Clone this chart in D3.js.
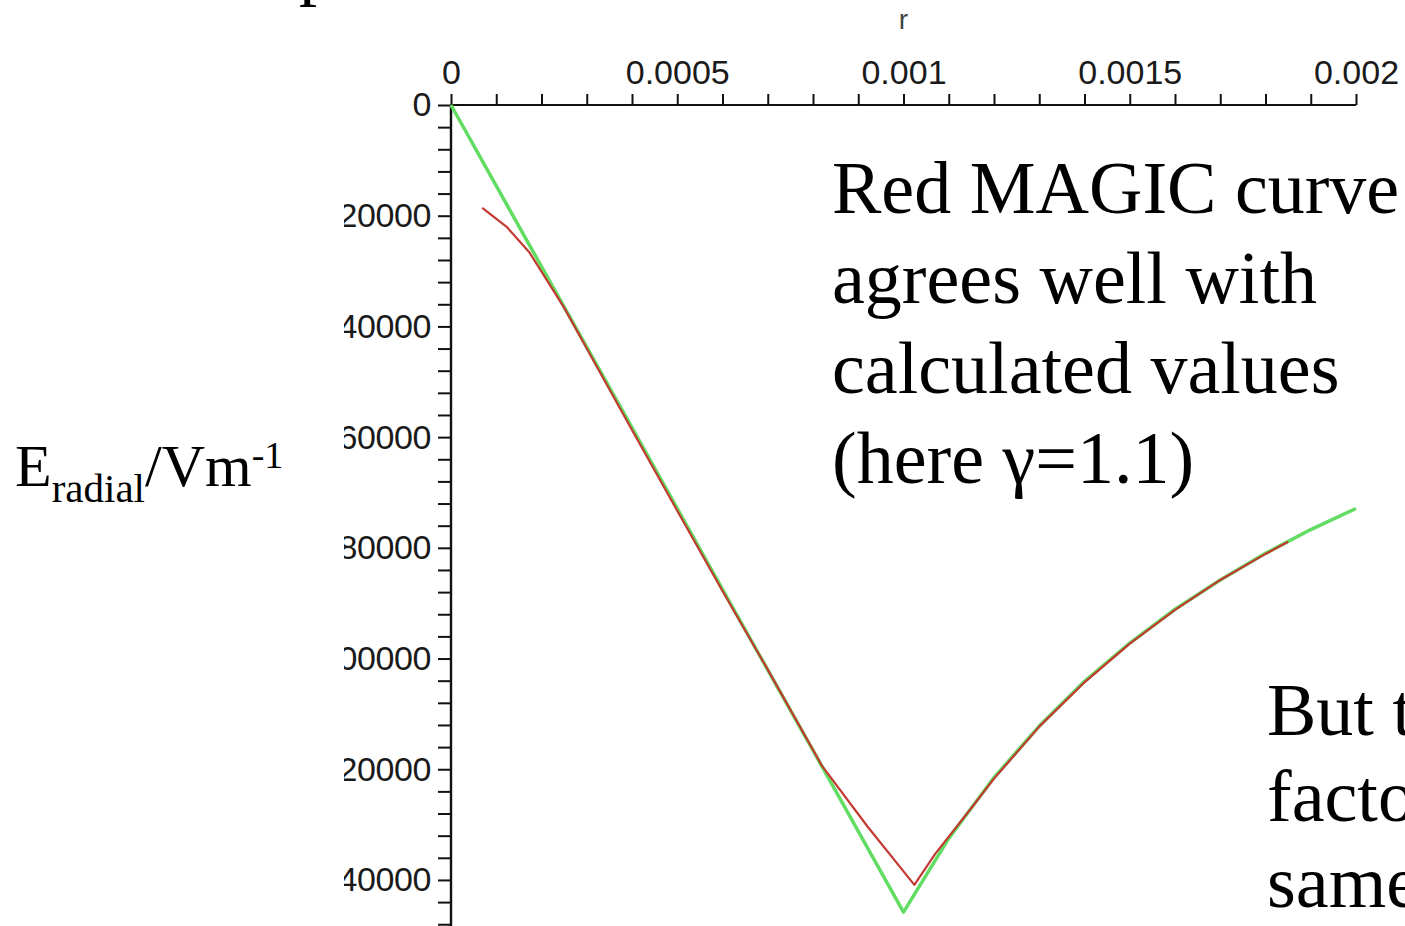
<!DOCTYPE html>
<html>
<head>
<meta charset="utf-8">
<script src="https://cdn.jsdelivr.net/npm/d3@7"></script>
<style>
  html, body { margin: 0; padding: 0; background: #fff; }
  svg { display: block; }
</style>
</head>
<body>
<svg id="chart" width="1405" height="926"></svg>
<script>
// ---------- data ----------
const xTickValues = [0, 0.0005, 0.001, 0.0015, 0.002];
const xTickLabels = ["0", "0.0005", "0.001", "0.0015", "0.002"];
const yTickValues = [0, -20000, -40000, -60000, -80000, -100000, -120000, -140000];
const yTickLabels = ["0", "-20000", "-40000", "-60000", "-80000", "-100000", "-120000", "-140000"];

// calculated values (green)
const calcR = [0, 0.0002, 0.0004, 0.0006, 0.0008, 0.001, 0.0011, 0.0012, 0.0013, 0.0014, 0.0015, 0.0016, 0.0017, 0.0018, 0.0019, 0.002];
const calcE = [0, -29200, -58300, -87500, -116600, -145800, -132500, -121500, -112200, -104100, -97200, -91100, -85800, -81000, -76700, -72900];

// MAGIC curve (red)
const magicR = [0.000069, 0.000123, 0.000173, 0.00025, 0.0003, 0.0004, 0.0005, 0.0006, 0.0007, 0.00082, 0.00092, 0.001024, 0.00107, 0.00115, 0.0012, 0.0013, 0.0014, 0.0015, 0.0016, 0.0017, 0.0018, 0.00185];
const magicE = [-18600, -22000, -26600, -36600, -44000, -58700, -73300, -87800, -102000, -119400, -130300, -140900, -135300, -127000, -121700, -112300, -104300, -97300, -91200, -85800, -81100, -78900];

const noteLines = ["Red MAGIC curve", "agrees well with", "calculated values", "(here \u03b3=1.1)"];
const note2Lines = ["But t", "facto", "same"];

// ---------- drawing ----------
const svg = d3.select("#chart");
svg.append("rect").attr("width", 1405).attr("height", 926).attr("fill", "#fff");

const x = d3.scaleLinear().domain([0, 0.002]).range([451, 1356]);
const y = d3.scaleLinear().domain([0, -148500]).range([105, 927]);

const axisFont = "'Liberation Sans', Arial, sans-serif";
const serif = "'Liberation Serif', 'Times New Roman', serif";

// clip for cropped y labels (absolute coordinates)
svg.append("clipPath").attr("id", "ylabclip")
  .append("rect").attr("x", 344).attr("y", 0).attr("width", 1061).attr("height", 926);

// x axis (top)
const xAxis = d3.axisTop(x)
  .tickValues(d3.range(0, 21).map(i => i * 0.0001))
  .tickSize(11)
  .tickPadding(10)
  .tickFormat(d => {
    const idx = xTickValues.findIndex(v => Math.abs(v - d) < 1e-9);
    return idx >= 0 ? xTickLabels[idx] : "";
  });
const gx = svg.append("g").attr("transform", "translate(0,105)").call(xAxis);
gx.select(".domain").attr("stroke", "#111").attr("stroke-width", 2.2)
  .attr("d", `M${x(0)},0H${x(0.002)}`);
gx.selectAll(".tick line").attr("stroke", "#111").attr("stroke-width", 2);
gx.selectAll(".tick text").attr("font-family", axisFont).attr("font-size", 34)
  .attr("fill", "#1a1a1a");

// y axis (left), wrapped in a clipped group
const yWrap = svg.append("g").attr("clip-path", "url(#ylabclip)");
const yAxis = d3.axisLeft(y)
  .tickValues(d3.range(0, 38).map(i => -i * 4000))
  .tickSize(13)
  .tickPadding(7)
  .tickFormat(d => {
    const idx = yTickValues.findIndex(v => v === d);
    return idx >= 0 ? yTickLabels[idx] : "";
  });
const gy = yWrap.append("g").attr("transform", `translate(${x(0)},0)`).call(yAxis);
gy.select(".domain").attr("stroke", "#111").attr("stroke-width", 2.4)
  .attr("d", `M0,${y(0)}V926`);
gy.selectAll(".tick line").attr("stroke", "#111").attr("stroke-width", 2);
gy.selectAll(".tick text").attr("font-family", axisFont).attr("font-size", 34)
  .attr("letter-spacing", -0.4).attr("fill", "#1a1a1a");

// axis name "r"
svg.append("text").attr("x", x(0.001)).attr("y", 29).attr("text-anchor", "middle")
  .attr("font-family", axisFont).attr("font-size", 28).attr("fill", "#444").text("r");

// lines
const line = d3.line().x(d => x(d[0])).y(d => y(d[1]));
const calcData = calcR.map((r, i) => [r, calcE[i]]);
const magicData = magicR.map((r, i) => [r, magicE[i]]);

svg.append("path").datum(calcData).attr("d", line)
  .attr("fill", "none").attr("stroke", "#62dc62").attr("stroke-width", 3.5)
  .attr("stroke-linejoin", "round");
svg.append("path").datum(magicData).attr("d", line)
  .attr("fill", "none").attr("stroke", "#c23a32").attr("stroke-width", 2.2)
  .attr("stroke-linejoin", "round");

// y axis title E_radial/Vm^-1
const yt = svg.append("text").attr("x", 15).attr("y", 486)
  .attr("font-family", serif).attr("font-size", 60).attr("fill", "#000");
yt.append("tspan").text("E");
yt.append("tspan").attr("font-size", 41).attr("dy", 16).text("radial");
yt.append("tspan").attr("dy", -16).text("/Vm");
yt.append("tspan").attr("font-size", 38).attr("dy", -18).text("-1");

// cropped slide title fragment at top
svg.append("text").attr("x", 299).attr("y", -8)
  .attr("font-family", serif).attr("font-size", 72).attr("fill", "#000").text("p");

// annotation text
const note = svg.append("text").attr("font-family", serif).attr("font-size", 74).attr("fill", "#000");
noteLines.forEach((t, i) => {
  note.append("tspan").attr("x", 832).attr("y", 213 + i * 90).text(t);
});
const note2 = svg.append("text").attr("font-family", serif).attr("font-size", 74).attr("fill", "#000");
note2Lines.forEach((t, i) => {
  note2.append("tspan").attr("x", 1267).attr("y", 735 + i * 86).text(t);
});
</script>
</body>
</html>
